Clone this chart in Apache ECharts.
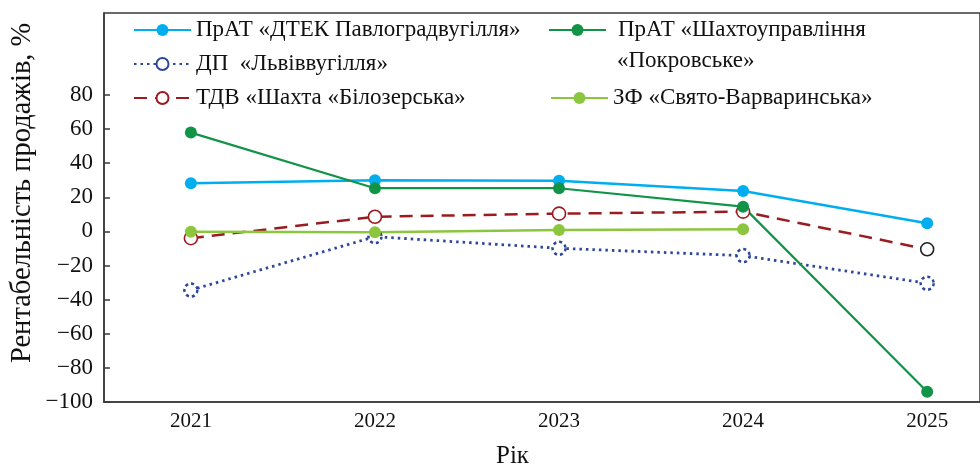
<!DOCTYPE html>
<html>
<head>
<meta charset="utf-8">
<script src="https://cdn.jsdelivr.net/npm/echarts@6/dist/echarts.min.js"></script>
<style>
html, body { margin: 0; padding: 0; background: #fff; }
#container { width: 980px; height: 468px; }
</style>
</head>
<body>
<div id="container"></div>
<script>
// роки та значення рентабельності продажів, %
const years = [2021, 2022, 2023, 2024, 2025];
const yTicks = [-100, -80, -60, -40, -20, 0, 20, 40, 60, 80];

const dtek = [28.2, 30, 29.7, 23.7, 4.8];
const lviv = [-34.4, -3.1, -9.9, -14.2, -30.4];
const biloz = [-4, 8.6, 10.4, 11.6, -10.5];
const pokrov = [57.9, 25.3, 25.3, 14.5, -94];
const svyato = [-0.2, -0.5, 0.8, 1.2, null];

const NAMES = [
    'ПрАТ «ДТЕК Павлоградвугілля»',
    'ДП  «Львіввугілля»',
    'ТДВ «Шахта «Білозерська»',
    'ПрАТ «Шахтоуправління «Покровське»',
    'ЗФ «Свято-Варваринська»'
];

const FONT = '"Liberation Serif", "DejaVu Serif", serif';

function pairs(vals) {
    return years.map(function (y, i) { return [y, vals[i]]; });
}

let dom = document.getElementById('container');
let myChart = echarts.init(dom);

let bilozData = pairs(biloz);
// last point of this series has a dark rim in the source
bilozData[4] = { value: bilozData[4], itemStyle: { borderColor: '#222' } };

let legendText = { fontFamily: FONT, fontSize: 23, color: '#111', lineHeight: 24 };

let option = {
    backgroundColor: '#fff',
    animation: false,
    grid: {
        left: 104, top: 13, right: -2, bottom: 66,
        show: true, borderColor: '#3a3a3a', borderWidth: 1.5
    },
    xAxis: {
        type: 'value',
        min: 2020.528,
        max: 2025.287,
        axisLine: { show: true, onZero: false, lineStyle: { color: '#3a3a3a', width: 1.5 } },
        axisTick: { show: false },
        splitLine: { show: false },
        axisLabel: {
            customValues: years,
            formatter: function (v) { return String(v); },
            color: '#111', fontFamily: FONT, fontSize: 21, margin: 9
        }
    },
    yAxis: {
        type: 'value',
        min: -100,
        max: 128,
        axisLine: { show: true, lineStyle: { color: '#3a3a3a', width: 1.5 } },
        axisTick: {
            show: true, inside: true, length: 6,
            customValues: yTicks,
            lineStyle: { color: '#3a3a3a', width: 1.5 }
        },
        splitLine: { show: false },
        axisLabel: {
            customValues: yTicks,
            formatter: function (v) { return v < 0 ? '\u2212' + Math.abs(v) : String(v); },
            color: '#111', fontFamily: FONT, fontSize: 23, margin: 11
        }
    },
    legend: [{
        left: 133, top: 18, padding: 0, orient: 'vertical', itemGap: 10,
        itemWidth: 57, itemHeight: 15,
        data: [NAMES[0], NAMES[1], NAMES[2]],
        textStyle: legendText
    }, {
        left: 548, top: 18, padding: 0, orient: 'vertical',
        itemWidth: 57, itemHeight: 15,
        data: [NAMES[3]],
        formatter: function () { return 'ПрАТ «Шахтоуправління'; },
        textStyle: Object.assign({}, legendText, { padding: [0, 0, 0, 7] })
    }, {
        left: 550, top: 86, padding: 0, orient: 'vertical',
        itemWidth: 57, itemHeight: 15,
        data: [NAMES[4]],
        textStyle: legendText
    }],
    graphic: [{
        type: 'text', left: 617, top: 49,
        style: { text: '«Покровське»', font: '23px ' + FONT, fill: '#111' }
    }, {
        type: 'text', x: 8, y: 363, rotation: Math.PI / 2,
        style: { text: 'Рентабельність продажів, %', font: '28.5px ' + FONT, fill: '#111' }
    }, {
        type: 'text', left: 496, top: 444,
        style: { text: 'Рік', font: '25px ' + FONT, fill: '#111' }
    }],
    series: [{
        name: NAMES[0], type: 'line', data: pairs(dtek),
        symbol: 'circle', symbolSize: 12,
        lineStyle: { color: '#00AEEF', width: 2.5 },
        itemStyle: { color: '#00AEEF' }
    }, {
        name: NAMES[1], type: 'line', data: pairs(lviv),
        symbol: 'circle', symbolSize: 13,
        lineStyle: { color: '#2D479B', width: 2.8, type: [2.5, 4] },
        itemStyle: { color: '#fff', borderColor: '#2D479B', borderWidth: 2.5, borderType: [3, 3] }
    }, {
        name: NAMES[2], type: 'line', data: bilozData,
        symbol: 'circle', symbolSize: 13,
        lineStyle: { color: '#9B1C20', width: 2.5, type: [13, 8] },
        itemStyle: { color: '#fff', borderColor: '#9B1C20', borderWidth: 1.6 }
    }, {
        name: NAMES[3], type: 'line', data: pairs(pokrov),
        symbol: 'circle', symbolSize: 12,
        lineStyle: { color: '#119447', width: 2.2 },
        itemStyle: { color: '#119447' }
    }, {
        name: NAMES[4], type: 'line', data: pairs(svyato),
        symbol: 'circle', symbolSize: 12,
        lineStyle: { color: '#8CC63F', width: 2.5 },
        itemStyle: { color: '#8CC63F' }
    }]
};

myChart.setOption(option);
window.addEventListener('resize', function () {
    myChart.resize();
});
</script>
</body>
</html>
